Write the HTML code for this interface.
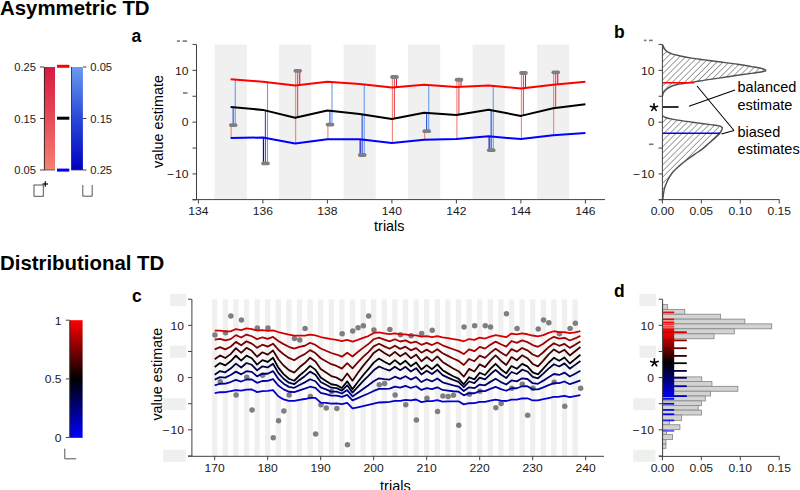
<!DOCTYPE html>
<html><head><meta charset="utf-8"><title>Asymmetric and Distributional TD</title>
<style>html,body{margin:0;padding:0;background:#fff;width:800px;height:490px;overflow:hidden;font-family:"Liberation Sans", sans-serif;}</style>
</head><body>
<svg width="800" height="490" viewBox="0 0 800 490" style="position:absolute;left:0;top:0;font-family:&quot;Liberation Sans&quot;, sans-serif"><text x="0" y="14.6" font-size="20.4" text-anchor="start" font-weight="bold" fill="#000" >Asymmetric TD</text>
<text x="0" y="269.6" font-size="20.4" text-anchor="start" font-weight="bold" fill="#000" >Distributional TD</text>
<text x="131.5" y="41.8" font-size="17.5" text-anchor="start" font-weight="bold" fill="#000" >a</text>
<text x="614" y="37.7" font-size="17.5" text-anchor="start" font-weight="bold" fill="#000" >b</text>
<text x="132" y="302.2" font-size="17.5" text-anchor="start" font-weight="bold" fill="#000" >c</text>
<text x="614.1" y="297.2" font-size="17.5" text-anchor="start" font-weight="bold" fill="#000" >d</text>
<defs>
<linearGradient id="gred" x1="0" y1="0" x2="0" y2="1"><stop offset="0" stop-color="#d8193f"/><stop offset="0.5" stop-color="#e64a5a"/><stop offset="1" stop-color="#f5826f"/></linearGradient>
<linearGradient id="gblue" x1="0" y1="0" x2="0" y2="1"><stop offset="0" stop-color="#6a9bf0"/><stop offset="0.5" stop-color="#2a48d8"/><stop offset="1" stop-color="#0000c0"/></linearGradient>
<linearGradient id="grb" x1="0" y1="0" x2="0" y2="1"><stop offset="0" stop-color="#ff0000"/><stop offset="0.5" stop-color="#000000"/><stop offset="1" stop-color="#0000ff"/></linearGradient>
<linearGradient id="gblock" gradientUnits="userSpaceOnUse" x1="0" y1="328.4" x2="0" y2="397.3"><stop offset="0" stop-color="#ff0000"/><stop offset="0.08" stop-color="#ee0000"/><stop offset="0.5" stop-color="#000000"/><stop offset="1" stop-color="#0000ff"/></linearGradient>
<pattern id="hatch" patternUnits="userSpaceOnUse" width="4.3" height="4.3" patternTransform="rotate(45)"><line x1="0" y1="-1" x2="0" y2="5.3" stroke="#4a4a4a" stroke-width="1.05"/></pattern>
</defs>
<rect x="44" y="67" width="11" height="103" fill="url(#gred)" />
<line x1="44.4" y1="67" x2="44.4" y2="170" stroke="#222" stroke-width="0.9" />
<rect x="71.3" y="67" width="11.6" height="103" fill="url(#gblue)" />
<line x1="71.5" y1="67" x2="71.5" y2="170" stroke="#333" stroke-width="0.9" />
<line x1="71.3" y1="170" x2="83" y2="170" stroke="#444" stroke-width="0.8" />
<line x1="44" y1="170" x2="55" y2="170" stroke="#444" stroke-width="0.8" />
<line x1="40" y1="67" x2="44" y2="67" stroke="#444" stroke-width="1" />
<text x="0" y="0" transform="translate(36,71) scale(1.0,1)" font-size="11.2" text-anchor="end" fill="#1a1a1a">0.25</text>
<line x1="40" y1="118.5" x2="44" y2="118.5" stroke="#444" stroke-width="1" />
<text x="0" y="0" transform="translate(36,122.5) scale(1.0,1)" font-size="11.2" text-anchor="end" fill="#1a1a1a">0.15</text>
<line x1="40" y1="170" x2="44" y2="170" stroke="#444" stroke-width="1" />
<text x="0" y="0" transform="translate(36,174) scale(1.0,1)" font-size="11.2" text-anchor="end" fill="#1a1a1a">0.05</text>
<line x1="83" y1="67" x2="86.5" y2="67" stroke="#444" stroke-width="1" />
<text x="0" y="0" transform="translate(90.3,71) scale(1.0,1)" font-size="11.2" text-anchor="start" fill="#1a1a1a">0.05</text>
<line x1="83" y1="118.5" x2="86.5" y2="118.5" stroke="#444" stroke-width="1" />
<text x="0" y="0" transform="translate(90.3,122.5) scale(1.0,1)" font-size="11.2" text-anchor="start" fill="#1a1a1a">0.15</text>
<line x1="83" y1="170" x2="86.5" y2="170" stroke="#444" stroke-width="1" />
<text x="0" y="0" transform="translate(90.3,174) scale(1.0,1)" font-size="11.2" text-anchor="start" fill="#1a1a1a">0.25</text>
<rect x="57" y="64.8" width="12.3" height="3" fill="#ff0000" />
<rect x="57" y="116.7" width="12.3" height="3" fill="#000000" />
<rect x="57" y="168.6" width="12.3" height="3" fill="#0000ff" />
<rect x="34" y="185" width="9.3" height="11.3" fill="none" stroke="#555" stroke-width="1"/>
<line x1="42.5" y1="184" x2="48" y2="184" stroke="#111" stroke-width="1.3" />
<line x1="45.3" y1="181.3" x2="45.3" y2="186.8" stroke="#111" stroke-width="1.3" />
<polyline points="82.8,185 82.8,196.2 92.2,196.2 92.2,185" fill="none" stroke="#555" stroke-width="1"/>
<rect x="214.53" y="44.5" width="32.25" height="155.1" fill="#f0f0f0" />
<rect x="279.02" y="44.5" width="32.25" height="155.1" fill="#f0f0f0" />
<rect x="343.52" y="44.5" width="32.25" height="155.1" fill="#f0f0f0" />
<rect x="408.02" y="44.5" width="32.25" height="155.1" fill="#f0f0f0" />
<rect x="472.52" y="44.5" width="32.25" height="155.1" fill="#f0f0f0" />
<rect x="537.02" y="44.5" width="32.25" height="155.1" fill="#f0f0f0" />
<line x1="231.15" y1="138" x2="231.15" y2="125.1" stroke="#f5826f" stroke-width="1.1" />
<line x1="233.15" y1="107.1" x2="233.15" y2="125.1" stroke="#2a48d8" stroke-width="1.1" />
<line x1="235.25" y1="79.2" x2="235.25" y2="125.1" stroke="#6a9bf0" stroke-width="1.1" />
<line x1="263.4" y1="137.5" x2="263.4" y2="163.4" stroke="#0000c0" stroke-width="1.1" />
<line x1="265.4" y1="109.9" x2="265.4" y2="163.4" stroke="#2a48d8" stroke-width="1.1" />
<line x1="267.5" y1="81.8" x2="267.5" y2="163.4" stroke="#6a9bf0" stroke-width="1.1" />
<line x1="295.65" y1="143.5" x2="295.65" y2="70.8" stroke="#f5826f" stroke-width="1.1" />
<line x1="297.65" y1="117.7" x2="297.65" y2="70.8" stroke="#e64a5a" stroke-width="1.1" />
<line x1="299.75" y1="85.4" x2="299.75" y2="70.8" stroke="#d8193f" stroke-width="1.1" />
<line x1="327.9" y1="139.2" x2="327.9" y2="124.6" stroke="#f5826f" stroke-width="1.1" />
<line x1="329.9" y1="110.5" x2="329.9" y2="124.6" stroke="#2a48d8" stroke-width="1.1" />
<line x1="332" y1="81.8" x2="332" y2="124.6" stroke="#6a9bf0" stroke-width="1.1" />
<line x1="360.15" y1="139.2" x2="360.15" y2="155" stroke="#0000c0" stroke-width="1.1" />
<line x1="362.15" y1="113.9" x2="362.15" y2="155" stroke="#2a48d8" stroke-width="1.1" />
<line x1="364.25" y1="84" x2="364.25" y2="155" stroke="#6a9bf0" stroke-width="1.1" />
<line x1="392.4" y1="143" x2="392.4" y2="77" stroke="#f5826f" stroke-width="1.1" />
<line x1="394.4" y1="119" x2="394.4" y2="77" stroke="#e64a5a" stroke-width="1.1" />
<line x1="396.5" y1="87.6" x2="396.5" y2="77" stroke="#d8193f" stroke-width="1.1" />
<line x1="424.65" y1="139.7" x2="424.65" y2="131.2" stroke="#f5826f" stroke-width="1.1" />
<line x1="426.65" y1="112.7" x2="426.65" y2="131.2" stroke="#2a48d8" stroke-width="1.1" />
<line x1="428.75" y1="84.7" x2="428.75" y2="131.2" stroke="#6a9bf0" stroke-width="1.1" />
<line x1="456.9" y1="139" x2="456.9" y2="79.75" stroke="#f5826f" stroke-width="1.1" />
<line x1="458.9" y1="115" x2="458.9" y2="79.75" stroke="#e64a5a" stroke-width="1.1" />
<line x1="461" y1="86.9" x2="461" y2="79.75" stroke="#d8193f" stroke-width="1.1" />
<line x1="489.15" y1="136.3" x2="489.15" y2="150.2" stroke="#0000c0" stroke-width="1.1" />
<line x1="491.15" y1="109.8" x2="491.15" y2="150.2" stroke="#2a48d8" stroke-width="1.1" />
<line x1="493.25" y1="85.4" x2="493.25" y2="150.2" stroke="#6a9bf0" stroke-width="1.1" />
<line x1="521.4" y1="139.1" x2="521.4" y2="73" stroke="#f5826f" stroke-width="1.1" />
<line x1="523.4" y1="115.9" x2="523.4" y2="73" stroke="#e64a5a" stroke-width="1.1" />
<line x1="525.5" y1="88.5" x2="525.5" y2="73" stroke="#d8193f" stroke-width="1.1" />
<line x1="553.65" y1="135.2" x2="553.65" y2="72.3" stroke="#f5826f" stroke-width="1.1" />
<line x1="555.65" y1="108.3" x2="555.65" y2="72.3" stroke="#e64a5a" stroke-width="1.1" />
<line x1="557.75" y1="84.7" x2="557.75" y2="72.3" stroke="#d8193f" stroke-width="1.1" />
<polyline points="230.65,79.2 262.9,81.8 295.15,85.4 327.4,81.8 359.65,84 391.9,87.6 424.15,84.7 456.4,86.9 488.65,85.4 520.9,88.5 553.15,84.7 585.4,81.8" fill="none" stroke="#ff0000" stroke-width="2" stroke-linejoin="round" />
<polyline points="230.65,107.1 262.9,109.9 295.15,117.7 327.4,110.5 359.65,113.9 391.9,119 424.15,112.7 456.4,115 488.65,109.8 520.9,115.9 553.15,108.3 585.4,104.2" fill="none" stroke="#000000" stroke-width="2" stroke-linejoin="round" />
<polyline points="230.65,138 262.9,137.5 295.15,143.5 327.4,139.2 359.65,139.2 391.9,143 424.15,139.7 456.4,139 488.65,136.3 520.9,139.1 553.15,135.2 585.4,133" fill="none" stroke="#0000ff" stroke-width="2" stroke-linejoin="round" />
<rect x="228.95" y="123.2" width="8.6" height="3.8" rx="1.9" fill="#7f7f7f"/>
<rect x="261.2" y="161.5" width="8.6" height="3.8" rx="1.9" fill="#7f7f7f"/>
<rect x="293.45" y="68.9" width="8.6" height="3.8" rx="1.9" fill="#7f7f7f"/>
<rect x="325.7" y="122.7" width="8.6" height="3.8" rx="1.9" fill="#7f7f7f"/>
<rect x="357.95" y="153.1" width="8.6" height="3.8" rx="1.9" fill="#7f7f7f"/>
<rect x="390.2" y="75.1" width="8.6" height="3.8" rx="1.9" fill="#7f7f7f"/>
<rect x="422.45" y="129.3" width="8.6" height="3.8" rx="1.9" fill="#7f7f7f"/>
<rect x="454.7" y="77.85" width="8.6" height="3.8" rx="1.9" fill="#7f7f7f"/>
<rect x="486.95" y="148.3" width="8.6" height="3.8" rx="1.9" fill="#7f7f7f"/>
<rect x="519.2" y="71.1" width="8.6" height="3.8" rx="1.9" fill="#7f7f7f"/>
<rect x="551.45" y="70.4" width="8.6" height="3.8" rx="1.9" fill="#7f7f7f"/>
<line x1="196.5" y1="44.5" x2="196.5" y2="199.6" stroke="#404040" stroke-width="1" />
<line x1="192.5" y1="199.6" x2="605" y2="199.6" stroke="#404040" stroke-width="1" />
<line x1="192.5" y1="44.45" x2="196.5" y2="44.45" stroke="#404040" stroke-width="1" />
<line x1="192.5" y1="70.35" x2="196.5" y2="70.35" stroke="#404040" stroke-width="1" />
<text x="0" y="0" transform="translate(188.5,74.65) scale(1.08,1)" font-size="11.2" text-anchor="end" fill="#1a1a1a">10</text>
<line x1="192.5" y1="96.25" x2="196.5" y2="96.25" stroke="#404040" stroke-width="1" />
<line x1="192.5" y1="122.15" x2="196.5" y2="122.15" stroke="#404040" stroke-width="1" />
<text x="0" y="0" transform="translate(188.5,126.45) scale(1.08,1)" font-size="11.2" text-anchor="end" fill="#1a1a1a">0</text>
<line x1="192.5" y1="148.05" x2="196.5" y2="148.05" stroke="#404040" stroke-width="1" />
<line x1="192.5" y1="173.95" x2="196.5" y2="173.95" stroke="#404040" stroke-width="1" />
<text x="0" y="0" transform="translate(188.5,178.25) scale(1.08,1)" font-size="11.2" text-anchor="end" fill="#1a1a1a">− 10</text>
<line x1="192.5" y1="199.85" x2="196.5" y2="199.85" stroke="#404040" stroke-width="1" />
<line x1="176.9" y1="41.1" x2="179.9" y2="41.1" stroke="#777" stroke-width="1.6" />
<line x1="182.6" y1="41.1" x2="187.1" y2="41.1" stroke="#777" stroke-width="1.6" />
<line x1="183" y1="93" x2="187.5" y2="93" stroke="#777" stroke-width="1.6" />
<line x1="198.4" y1="199.6" x2="198.4" y2="203.5" stroke="#404040" stroke-width="1" />
<text x="0" y="0" transform="translate(198.4,215) scale(1.08,1)" font-size="11.2" text-anchor="middle" fill="#1a1a1a">134</text>
<line x1="262.9" y1="199.6" x2="262.9" y2="203.5" stroke="#404040" stroke-width="1" />
<text x="0" y="0" transform="translate(262.9,215) scale(1.08,1)" font-size="11.2" text-anchor="middle" fill="#1a1a1a">136</text>
<line x1="327.4" y1="199.6" x2="327.4" y2="203.5" stroke="#404040" stroke-width="1" />
<text x="0" y="0" transform="translate(327.4,215) scale(1.08,1)" font-size="11.2" text-anchor="middle" fill="#1a1a1a">138</text>
<line x1="391.9" y1="199.6" x2="391.9" y2="203.5" stroke="#404040" stroke-width="1" />
<text x="0" y="0" transform="translate(391.9,215) scale(1.08,1)" font-size="11.2" text-anchor="middle" fill="#1a1a1a">140</text>
<line x1="456.4" y1="199.6" x2="456.4" y2="203.5" stroke="#404040" stroke-width="1" />
<text x="0" y="0" transform="translate(456.4,215) scale(1.08,1)" font-size="11.2" text-anchor="middle" fill="#1a1a1a">142</text>
<line x1="520.9" y1="199.6" x2="520.9" y2="203.5" stroke="#404040" stroke-width="1" />
<text x="0" y="0" transform="translate(520.9,215) scale(1.08,1)" font-size="11.2" text-anchor="middle" fill="#1a1a1a">144</text>
<line x1="585.4" y1="199.6" x2="585.4" y2="203.5" stroke="#404040" stroke-width="1" />
<text x="0" y="0" transform="translate(585.4,215) scale(1.08,1)" font-size="11.2" text-anchor="middle" fill="#1a1a1a">146</text>
<text x="389.3" y="231" font-size="14.4" text-anchor="middle" font-weight="normal" fill="#000" >trials</text>
<text x="0" y="0" font-size="14.4" text-anchor="middle" font-weight="normal" fill="#000" transform="translate(163.4,121.5) rotate(-90)">value estimate</text>
<path d="M662.5,44.6 C662.68,45.02 663.13,46.22 663.6,47.1 C664.07,47.98 664.55,49.07 665.3,49.9 C666.05,50.73 666.88,51.4 668.1,52.1 C669.32,52.8 670.53,53.45 672.6,54.1 C674.67,54.75 677.32,55.33 680.5,56 C683.68,56.67 687.62,57.45 691.7,58.1 C695.78,58.75 700.49,59.28 705,59.9 C709.51,60.52 713.33,61.07 718.75,61.8 C724.17,62.53 732.04,63.5 737.5,64.3 C742.96,65.1 747.6,65.93 751.5,66.6 C755.4,67.27 758.62,67.75 760.9,68.3 C763.18,68.85 764.42,69.53 765.2,69.9 C765.98,70.27 765.6,70.3 765.6,70.5 C765.6,70.7 765.98,70.85 765.2,71.1 C764.42,71.35 763.18,71.62 760.9,72 C758.62,72.38 755.4,72.85 751.5,73.4 C747.6,73.95 742.96,74.52 737.5,75.3 C732.04,76.08 724.17,77.3 718.75,78.1 C713.33,78.9 709.12,79.47 705,80.1 C700.88,80.73 698.08,81.28 694,81.9 C689.92,82.52 684.07,83.15 680.5,83.8 C676.93,84.45 674.67,85.08 672.6,85.8 C670.53,86.52 669.42,87.25 668.1,88.1 C666.78,88.95 665.55,89.97 664.7,90.9 C663.85,91.83 663.37,92.85 663,93.7 C662.63,94.55 662.58,95.62 662.5,96 Z" fill="url(#hatch)" stroke="none"/>
<path d="M662.5,115.7 C662.92,115.95 663.57,116.67 665,117.2 C666.43,117.73 667.9,118.25 671.1,118.9 C674.3,119.55 679.82,120.43 684.2,121.1 C688.58,121.77 693.02,122.32 697.4,122.9 C701.78,123.48 706.87,124.1 710.5,124.6 C714.13,125.1 717.28,125.43 719.2,125.9 C721.12,126.37 721.5,126.95 722,127.4 C722.5,127.85 722.3,128.04 722.2,128.6 C722.1,129.16 721.82,129.95 721.4,130.75 C720.98,131.55 720.72,132.24 719.7,133.4 C718.68,134.56 717.1,136.05 715.3,137.7 C713.5,139.35 711.03,141.43 708.9,143.3 C706.77,145.17 704.88,147.05 702.5,148.9 C700.12,150.75 697.25,152.55 694.6,154.4 C691.95,156.25 689.25,158 686.6,160 C683.95,162 681.08,164.28 678.7,166.4 C676.32,168.52 674.17,170.32 672.3,172.7 C670.43,175.08 668.82,178.05 667.5,180.7 C666.18,183.35 665.13,185.95 664.4,188.6 C663.67,191.25 663.37,194.77 663.1,196.6 C662.83,198.43 662.85,199.1 662.8,199.6 Z" fill="url(#hatch)" stroke="none"/>
<path d="M662.5,44.6 C662.68,45.02 663.13,46.22 663.6,47.1 C664.07,47.98 664.55,49.07 665.3,49.9 C666.05,50.73 666.88,51.4 668.1,52.1 C669.32,52.8 670.53,53.45 672.6,54.1 C674.67,54.75 677.32,55.33 680.5,56 C683.68,56.67 687.62,57.45 691.7,58.1 C695.78,58.75 700.49,59.28 705,59.9 C709.51,60.52 713.33,61.07 718.75,61.8 C724.17,62.53 732.04,63.5 737.5,64.3 C742.96,65.1 747.6,65.93 751.5,66.6 C755.4,67.27 758.62,67.75 760.9,68.3 C763.18,68.85 764.42,69.53 765.2,69.9 C765.98,70.27 765.6,70.3 765.6,70.5 C765.6,70.7 765.98,70.85 765.2,71.1 C764.42,71.35 763.18,71.62 760.9,72 C758.62,72.38 755.4,72.85 751.5,73.4 C747.6,73.95 742.96,74.52 737.5,75.3 C732.04,76.08 724.17,77.3 718.75,78.1 C713.33,78.9 709.12,79.47 705,80.1 C700.88,80.73 698.08,81.28 694,81.9 C689.92,82.52 684.07,83.15 680.5,83.8 C676.93,84.45 674.67,85.08 672.6,85.8 C670.53,86.52 669.42,87.25 668.1,88.1 C666.78,88.95 665.55,89.97 664.7,90.9 C663.85,91.83 663.37,92.85 663,93.7 C662.63,94.55 662.58,95.62 662.5,96" fill="none" stroke="#505050" stroke-width="1.45"/>
<path d="M662.5,115.7 C662.92,115.95 663.57,116.67 665,117.2 C666.43,117.73 667.9,118.25 671.1,118.9 C674.3,119.55 679.82,120.43 684.2,121.1 C688.58,121.77 693.02,122.32 697.4,122.9 C701.78,123.48 706.87,124.1 710.5,124.6 C714.13,125.1 717.28,125.43 719.2,125.9 C721.12,126.37 721.5,126.95 722,127.4 C722.5,127.85 722.3,128.04 722.2,128.6 C722.1,129.16 721.82,129.95 721.4,130.75 C720.98,131.55 720.72,132.24 719.7,133.4 C718.68,134.56 717.1,136.05 715.3,137.7 C713.5,139.35 711.03,141.43 708.9,143.3 C706.77,145.17 704.88,147.05 702.5,148.9 C700.12,150.75 697.25,152.55 694.6,154.4 C691.95,156.25 689.25,158 686.6,160 C683.95,162 681.08,164.28 678.7,166.4 C676.32,168.52 674.17,170.32 672.3,172.7 C670.43,175.08 668.82,178.05 667.5,180.7 C666.18,183.35 665.13,185.95 664.4,188.6 C663.67,191.25 663.37,194.77 663.1,196.6 C662.83,198.43 662.85,199.1 662.8,199.6" fill="none" stroke="#505050" stroke-width="1.45"/>
<line x1="662.4" y1="82.8" x2="694.3" y2="82.8" stroke="#ff0000" stroke-width="1.6" />
<line x1="662.4" y1="133.2" x2="720.1" y2="133.2" stroke="#0000ff" stroke-width="1.6" />
<line x1="662.4" y1="107" x2="678.6" y2="107" stroke="#000" stroke-width="1.6" />
<path d="M654,107.4 L654,103.7 M654,107.4 L650.48,106.26 M654,107.4 L651.83,110.39 M654,107.4 L656.17,110.39 M654,107.4 L657.52,106.26 " stroke="#000" stroke-width="1.6" stroke-linecap="round" fill="none"/>
<line x1="689" y1="106.3" x2="735" y2="90" stroke="#000" stroke-width="1.05" />
<line x1="697" y1="86" x2="734" y2="130.5" stroke="#000" stroke-width="1.05" />
<line x1="734" y1="130.5" x2="721.5" y2="134" stroke="#000" stroke-width="1.05" />
<text x="737.5" y="91.8" font-size="14.5" text-anchor="start" font-weight="normal" fill="#000" >balanced</text>
<text x="737.5" y="109.5" font-size="14.5" text-anchor="start" font-weight="normal" fill="#000" >estimate</text>
<text x="737.5" y="136.9" font-size="14.5" text-anchor="start" font-weight="normal" fill="#000" >biased</text>
<text x="737.6" y="154.3" font-size="14.5" text-anchor="start" font-weight="normal" fill="#000" >estimates</text>
<line x1="662.4" y1="44.5" x2="662.4" y2="199.6" stroke="#404040" stroke-width="1" />
<line x1="659" y1="199.6" x2="779.5" y2="199.6" stroke="#404040" stroke-width="1" />
<line x1="658.5" y1="44.45" x2="662.4" y2="44.45" stroke="#404040" stroke-width="1" />
<line x1="658.5" y1="70.35" x2="662.4" y2="70.35" stroke="#404040" stroke-width="1" />
<text x="0" y="0" transform="translate(654.5,74.65) scale(1.08,1)" font-size="11.2" text-anchor="end" fill="#1a1a1a">10</text>
<line x1="658.5" y1="96.25" x2="662.4" y2="96.25" stroke="#404040" stroke-width="1" />
<line x1="658.5" y1="122.15" x2="662.4" y2="122.15" stroke="#404040" stroke-width="1" />
<text x="0" y="0" transform="translate(654.5,126.45) scale(1.08,1)" font-size="11.2" text-anchor="end" fill="#1a1a1a">0</text>
<line x1="658.5" y1="148.05" x2="662.4" y2="148.05" stroke="#404040" stroke-width="1" />
<line x1="658.5" y1="173.95" x2="662.4" y2="173.95" stroke="#404040" stroke-width="1" />
<text x="0" y="0" transform="translate(654.5,178.25) scale(1.08,1)" font-size="11.2" text-anchor="end" fill="#1a1a1a">− 10</text>
<line x1="658.5" y1="199.85" x2="662.4" y2="199.85" stroke="#404040" stroke-width="1" />
<line x1="643.9" y1="40.4" x2="646.5" y2="40.4" stroke="#777" stroke-width="1.6" />
<line x1="649" y1="40.4" x2="652.7" y2="40.4" stroke="#777" stroke-width="1.6" />
<line x1="649" y1="144.3" x2="653.5" y2="144.3" stroke="#777" stroke-width="1.6" />
<line x1="662.4" y1="199.6" x2="662.4" y2="203.5" stroke="#404040" stroke-width="1" />
<text x="0" y="0" transform="translate(662.4,215) scale(1.08,1)" font-size="11.2" text-anchor="middle" fill="#1a1a1a">0.00</text>
<line x1="701.33" y1="199.6" x2="701.33" y2="203.5" stroke="#404040" stroke-width="1" />
<text x="0" y="0" transform="translate(701.33,215) scale(1.08,1)" font-size="11.2" text-anchor="middle" fill="#1a1a1a">0.05</text>
<line x1="740.27" y1="199.6" x2="740.27" y2="203.5" stroke="#404040" stroke-width="1" />
<text x="0" y="0" transform="translate(740.27,215) scale(1.08,1)" font-size="11.2" text-anchor="middle" fill="#1a1a1a">0.10</text>
<line x1="779.2" y1="199.6" x2="779.2" y2="203.5" stroke="#404040" stroke-width="1" />
<text x="0" y="0" transform="translate(779.2,215) scale(1.08,1)" font-size="11.2" text-anchor="middle" fill="#1a1a1a">0.15</text>
<rect x="69.6" y="320.2" width="13" height="117.3" fill="url(#grb)" />
<line x1="69.9" y1="320.2" x2="69.9" y2="437.5" stroke="#222" stroke-width="0.9" />
<line x1="69.6" y1="437.5" x2="82.6" y2="437.5" stroke="#333" stroke-width="0.8" />
<line x1="65.8" y1="320.2" x2="69.6" y2="320.2" stroke="#444" stroke-width="1" />
<text x="0" y="0" transform="translate(61.5,324.5) scale(1.08,1)" font-size="11.2" text-anchor="end" fill="#1a1a1a">1</text>
<line x1="65.8" y1="378.9" x2="69.6" y2="378.9" stroke="#444" stroke-width="1" />
<text x="0" y="0" transform="translate(61.5,383.2) scale(1.08,1)" font-size="11.2" text-anchor="end" fill="#1a1a1a">0.5</text>
<line x1="65.8" y1="437.5" x2="69.6" y2="437.5" stroke="#444" stroke-width="1" />
<text x="0" y="0" transform="translate(61.5,441.8) scale(1.08,1)" font-size="11.2" text-anchor="end" fill="#1a1a1a">0</text>
<polyline points="64.8,448.6 64.8,458.8 76.2,458.8" fill="none" stroke="#555" stroke-width="1"/>
<rect x="212.05" y="299.4" width="5.3" height="156.9" fill="#f0f0f0" />
<rect x="222.65" y="299.4" width="5.3" height="156.9" fill="#f0f0f0" />
<rect x="233.25" y="299.4" width="5.3" height="156.9" fill="#f0f0f0" />
<rect x="243.85" y="299.4" width="5.3" height="156.9" fill="#f0f0f0" />
<rect x="254.45" y="299.4" width="5.3" height="156.9" fill="#f0f0f0" />
<rect x="265.05" y="299.4" width="5.3" height="156.9" fill="#f0f0f0" />
<rect x="275.65" y="299.4" width="5.3" height="156.9" fill="#f0f0f0" />
<rect x="286.25" y="299.4" width="5.3" height="156.9" fill="#f0f0f0" />
<rect x="296.85" y="299.4" width="5.3" height="156.9" fill="#f0f0f0" />
<rect x="307.45" y="299.4" width="5.3" height="156.9" fill="#f0f0f0" />
<rect x="318.05" y="299.4" width="5.3" height="156.9" fill="#f0f0f0" />
<rect x="328.65" y="299.4" width="5.3" height="156.9" fill="#f0f0f0" />
<rect x="339.25" y="299.4" width="5.3" height="156.9" fill="#f0f0f0" />
<rect x="349.85" y="299.4" width="5.3" height="156.9" fill="#f0f0f0" />
<rect x="360.45" y="299.4" width="5.3" height="156.9" fill="#f0f0f0" />
<rect x="371.05" y="299.4" width="5.3" height="156.9" fill="#f0f0f0" />
<rect x="381.65" y="299.4" width="5.3" height="156.9" fill="#f0f0f0" />
<rect x="392.25" y="299.4" width="5.3" height="156.9" fill="#f0f0f0" />
<rect x="402.85" y="299.4" width="5.3" height="156.9" fill="#f0f0f0" />
<rect x="413.45" y="299.4" width="5.3" height="156.9" fill="#f0f0f0" />
<rect x="424.05" y="299.4" width="5.3" height="156.9" fill="#f0f0f0" />
<rect x="434.65" y="299.4" width="5.3" height="156.9" fill="#f0f0f0" />
<rect x="445.25" y="299.4" width="5.3" height="156.9" fill="#f0f0f0" />
<rect x="455.85" y="299.4" width="5.3" height="156.9" fill="#f0f0f0" />
<rect x="466.45" y="299.4" width="5.3" height="156.9" fill="#f0f0f0" />
<rect x="477.05" y="299.4" width="5.3" height="156.9" fill="#f0f0f0" />
<rect x="487.65" y="299.4" width="5.3" height="156.9" fill="#f0f0f0" />
<rect x="498.25" y="299.4" width="5.3" height="156.9" fill="#f0f0f0" />
<rect x="508.85" y="299.4" width="5.3" height="156.9" fill="#f0f0f0" />
<rect x="519.45" y="299.4" width="5.3" height="156.9" fill="#f0f0f0" />
<rect x="530.05" y="299.4" width="5.3" height="156.9" fill="#f0f0f0" />
<rect x="540.65" y="299.4" width="5.3" height="156.9" fill="#f0f0f0" />
<rect x="551.25" y="299.4" width="5.3" height="156.9" fill="#f0f0f0" />
<rect x="561.85" y="299.4" width="5.3" height="156.9" fill="#f0f0f0" />
<rect x="572.45" y="299.4" width="5.3" height="156.9" fill="#f0f0f0" />
<rect x="170" y="294.03" width="16.3" height="12" fill="#eef0ed" />
<rect x="170" y="345.68" width="16.3" height="12" fill="#eef0ed" />
<rect x="163.3" y="398.23" width="22.5" height="12" fill="#eef0ed" />
<rect x="163.3" y="449.78" width="22.5" height="12" fill="#eef0ed" />
<circle cx="214.95" cy="335.02" r="2.75" fill="#7f7f7f"/>
<circle cx="220.25" cy="381.68" r="2.75" fill="#7f7f7f"/>
<circle cx="225.55" cy="332.67" r="2.75" fill="#7f7f7f"/>
<circle cx="230.85" cy="315.95" r="2.75" fill="#7f7f7f"/>
<circle cx="236.15" cy="395.1" r="2.75" fill="#7f7f7f"/>
<circle cx="241.45" cy="320.12" r="2.75" fill="#7f7f7f"/>
<circle cx="246.75" cy="377.18" r="2.75" fill="#7f7f7f"/>
<circle cx="252.05" cy="410" r="2.75" fill="#7f7f7f"/>
<circle cx="257.35" cy="327.96" r="2.75" fill="#7f7f7f"/>
<circle cx="262.65" cy="375.2" r="2.75" fill="#7f7f7f"/>
<circle cx="267.95" cy="327.96" r="2.75" fill="#7f7f7f"/>
<circle cx="273.25" cy="437.69" r="2.75" fill="#7f7f7f"/>
<circle cx="278.55" cy="420.71" r="2.75" fill="#7f7f7f"/>
<circle cx="283.85" cy="411.04" r="2.75" fill="#7f7f7f"/>
<circle cx="289.15" cy="395.1" r="2.75" fill="#7f7f7f"/>
<circle cx="294.45" cy="338.41" r="2.75" fill="#7f7f7f"/>
<circle cx="299.75" cy="339.98" r="2.75" fill="#7f7f7f"/>
<circle cx="305.05" cy="328.49" r="2.75" fill="#7f7f7f"/>
<circle cx="310.35" cy="396.41" r="2.75" fill="#7f7f7f"/>
<circle cx="315.65" cy="434.03" r="2.75" fill="#7f7f7f"/>
<circle cx="320.95" cy="404.77" r="2.75" fill="#7f7f7f"/>
<circle cx="326.25" cy="407.91" r="2.75" fill="#7f7f7f"/>
<circle cx="331.55" cy="391.45" r="2.75" fill="#7f7f7f"/>
<circle cx="336.85" cy="408.43" r="2.75" fill="#7f7f7f"/>
<circle cx="342.15" cy="333.87" r="2.75" fill="#7f7f7f"/>
<circle cx="347.45" cy="444.74" r="2.75" fill="#7f7f7f"/>
<circle cx="352.75" cy="330.89" r="2.75" fill="#7f7f7f"/>
<circle cx="358.05" cy="327.65" r="2.75" fill="#7f7f7f"/>
<circle cx="363.35" cy="325.87" r="2.75" fill="#7f7f7f"/>
<circle cx="368.65" cy="315.95" r="2.75" fill="#7f7f7f"/>
<circle cx="373.95" cy="330.05" r="2.75" fill="#7f7f7f"/>
<circle cx="379.25" cy="384.81" r="2.75" fill="#7f7f7f"/>
<circle cx="384.55" cy="383.5" r="2.75" fill="#7f7f7f"/>
<circle cx="389.85" cy="329.53" r="2.75" fill="#7f7f7f"/>
<circle cx="395.15" cy="395" r="2.75" fill="#7f7f7f"/>
<circle cx="400.45" cy="334.76" r="2.75" fill="#7f7f7f"/>
<circle cx="405.75" cy="404.77" r="2.75" fill="#7f7f7f"/>
<circle cx="411.05" cy="335.8" r="2.75" fill="#7f7f7f"/>
<circle cx="416.35" cy="419.92" r="2.75" fill="#7f7f7f"/>
<circle cx="421.65" cy="333.4" r="2.75" fill="#7f7f7f"/>
<circle cx="426.95" cy="398.29" r="2.75" fill="#7f7f7f"/>
<circle cx="432.25" cy="330.37" r="2.75" fill="#7f7f7f"/>
<circle cx="437.55" cy="411.56" r="2.75" fill="#7f7f7f"/>
<circle cx="442.85" cy="395.89" r="2.75" fill="#7f7f7f"/>
<circle cx="448.15" cy="396.41" r="2.75" fill="#7f7f7f"/>
<circle cx="453.45" cy="395.37" r="2.75" fill="#7f7f7f"/>
<circle cx="458.75" cy="425.15" r="2.75" fill="#7f7f7f"/>
<circle cx="464.05" cy="326.92" r="2.75" fill="#7f7f7f"/>
<circle cx="469.35" cy="394.32" r="2.75" fill="#7f7f7f"/>
<circle cx="474.65" cy="325.87" r="2.75" fill="#7f7f7f"/>
<circle cx="479.95" cy="391.19" r="2.75" fill="#7f7f7f"/>
<circle cx="485.25" cy="325.87" r="2.75" fill="#7f7f7f"/>
<circle cx="490.55" cy="326.92" r="2.75" fill="#7f7f7f"/>
<circle cx="495.85" cy="407.64" r="2.75" fill="#7f7f7f"/>
<circle cx="501.15" cy="403.46" r="2.75" fill="#7f7f7f"/>
<circle cx="506.45" cy="313.86" r="2.75" fill="#7f7f7f"/>
<circle cx="511.75" cy="388.26" r="2.75" fill="#7f7f7f"/>
<circle cx="517.05" cy="328.49" r="2.75" fill="#7f7f7f"/>
<circle cx="522.35" cy="384.13" r="2.75" fill="#7f7f7f"/>
<circle cx="527.65" cy="415.22" r="2.75" fill="#7f7f7f"/>
<circle cx="532.95" cy="388.26" r="2.75" fill="#7f7f7f"/>
<circle cx="538.25" cy="329.01" r="2.75" fill="#7f7f7f"/>
<circle cx="543.55" cy="320.12" r="2.75" fill="#7f7f7f"/>
<circle cx="548.85" cy="322.74" r="2.75" fill="#7f7f7f"/>
<circle cx="554.15" cy="382.2" r="2.75" fill="#7f7f7f"/>
<circle cx="559.45" cy="333.87" r="2.75" fill="#7f7f7f"/>
<circle cx="564.75" cy="406.13" r="2.75" fill="#7f7f7f"/>
<circle cx="570.05" cy="328.49" r="2.75" fill="#7f7f7f"/>
<circle cx="575.35" cy="323.26" r="2.75" fill="#7f7f7f"/>
<circle cx="580.65" cy="388.26" r="2.75" fill="#7f7f7f"/>
<polyline points="214.7,330.55 220,330.62 225.3,331.41 230.6,331.43 235.9,329.01 241.2,330.03 246.5,328.48 251.8,329.23 257.1,330.49 262.4,330.09 267.7,330.79 273,330.35 278.3,332.01 283.6,333.39 288.9,334.59 294.2,335.53 299.5,335.57 304.8,335.64 310.1,334.52 315.4,335.48 320.7,337.01 326,338.06 331.3,339.14 336.6,339.95 341.9,341.01 347.2,339.89 352.5,341.52 357.8,339.86 363.1,337.95 368.4,336.06 373.7,332.91 379,332.46 384.3,333.27 389.6,334.05 394.9,333.34 400.2,334.3 405.5,334.31 410.8,335.4 416.1,335.41 421.4,336.72 426.7,336.2 432,337.16 437.3,336.1 442.6,337.27 447.9,338.17 453.2,339.08 458.5,339.95 463.8,341.27 469.1,339.02 474.4,339.88 479.7,337.69 485,338.52 490.3,336.54 495.6,335.03 500.9,336.16 506.2,337.2 511.5,333.55 516.8,334.4 522.1,333.47 527.4,334.26 532.7,335.51 538,336.33 543.3,335.18 548.6,332.83 553.9,331.25 559.2,332.04 564.5,332.07 569.8,333.21 575.1,332.47 580.4,331.03" fill="none" stroke="rgb(211,0,0)" stroke-width="1.8" stroke-linejoin="round" />
<polyline points="214.7,339.55 220,338.77 225.3,340.48 230.6,339.14 235.9,335.15 241.2,337.55 246.5,334.55 251.8,336.25 257.1,339.2 262.4,337.27 267.7,338.78 273,336.92 278.3,340.94 283.6,344.12 288.9,346.79 294.2,348.72 299.5,346.95 304.8,345.75 310.1,342.79 315.4,344.93 320.7,348.48 326,350.73 331.3,353.01 336.6,354.54 341.9,356.69 347.2,352.77 352.5,356.44 357.8,352.05 363.1,347.86 368.4,344.08 373.7,339.25 379,337.67 384.3,339.55 389.6,341.3 394.9,339.28 400.2,341.5 405.5,340.34 410.8,342.91 416.1,341.69 421.4,344.81 426.7,342.85 432,345.06 437.3,342.54 442.6,345.29 447.9,347.31 453.2,349.27 458.5,351.11 463.8,354.06 469.1,349.4 474.4,351.19 479.7,346.84 485,348.61 490.3,344.71 495.6,341.65 500.9,344.28 506.2,346.64 511.5,341.01 516.8,342.9 522.1,340.42 527.4,342.16 532.7,345.08 538,346.8 543.3,343.74 548.6,339.69 553.9,336.78 559.2,338.59 564.5,337.78 569.8,340.5 575.1,338.44 580.4,335.83" fill="none" stroke="rgb(165,0,0)" stroke-width="1.8" stroke-linejoin="round" />
<polyline points="214.7,349.45 220,347.17 225.3,349.37 230.6,346.73 235.9,341.87 241.2,345.27 246.5,341.3 251.8,343.59 257.1,347.84 262.4,344.7 267.7,346.65 273,343.7 278.3,349.71 283.6,354.26 288.9,357.89 294.2,360.27 299.5,356.82 304.8,354.15 310.1,350.1 315.4,353.06 320.7,358.24 326,361.22 331.3,364.21 336.6,365.95 341.9,368.67 347.2,363.17 352.5,368.39 357.8,362.46 363.1,356.96 368.4,352.04 373.7,346.33 379,343.76 384.3,346.39 389.6,348.76 394.9,345.72 400.2,348.88 405.5,346.64 410.8,350.36 416.1,348.06 421.4,352.66 426.7,349.61 432,352.73 437.3,349.19 442.6,353.19 447.9,355.92 453.2,358.51 458.5,360.87 463.8,364.98 469.1,358.96 474.4,361.23 479.7,355.64 485,357.91 490.3,352.85 495.6,348.75 500.9,352.52 506.2,355.78 511.5,349.15 516.8,351.65 522.1,347.99 527.4,350.3 532.7,354.46 538,356.62 543.3,352.26 548.6,347.18 553.9,343.31 559.2,345.8 564.5,343.91 569.8,347.9 575.1,344.83 580.4,341.42" fill="none" stroke="rgb(117,0,0)" stroke-width="1.8" stroke-linejoin="round" />
<polyline points="214.7,359.16 220,355.4 225.3,358.06 230.6,354.11 235.9,348.18 241.2,352.92 246.5,347.82 251.8,350.79 257.1,356.77 262.4,352.29 267.7,354.61 273,350.47 278.3,359.27 283.6,365.48 288.9,370.08 294.2,372.61 299.5,367.29 304.8,363.05 310.1,357.68 315.4,361.59 320.7,368.91 326,372.53 331.3,376.1 336.6,377.65 341.9,380.76 347.2,373.47 352.5,380.67 357.8,372.93 363.1,365.9 368.4,359.68 373.7,352.88 379,349.33 384.3,352.92 389.6,356.01 394.9,351.89 400.2,356.25 405.5,352.91 410.8,358.14 416.1,354.67 421.4,361.26 426.7,356.93 432,361.11 437.3,356.33 442.6,361.91 447.9,365.34 453.2,368.48 458.5,371.2 463.8,376.64 469.1,368.92 474.4,371.48 479.7,364.39 485,367.1 490.3,360.69 495.6,355.44 500.9,360.72 506.2,365.03 511.5,357.08 516.8,360.23 522.1,355.3 527.4,358.21 532.7,363.97 538,366.42 543.3,360.61 548.6,354.32 553.9,349.41 559.2,352.72 564.5,349.79 569.8,355.48 575.1,351.29 580.4,346.93" fill="none" stroke="rgb(65,0,0)" stroke-width="1.8" stroke-linejoin="round" />
<polyline points="214.7,367.02 220,363.07 225.3,365.36 230.6,361.33 235.9,355.73 241.2,360.58 246.5,355.59 251.8,358.25 257.1,364.63 262.4,360.11 267.7,361.97 273,357.77 278.3,367.63 283.6,374.17 288.9,378.72 294.2,380.74 299.5,375.51 304.8,371.13 310.1,365.87 315.4,369.63 320.7,377.57 326,380.93 331.3,384.25 336.6,385.14 341.9,388.01 347.2,381.33 352.5,389.15 357.8,381.96 363.1,375.26 368.4,369.16 373.7,362.6 379,358.58 384.3,361.81 389.6,364.49 394.9,360.17 400.2,364.47 405.5,360.8 410.8,366.22 416.1,362.47 421.4,369.55 426.7,365.09 432,369.18 437.3,364.39 442.6,370.21 447.9,373.38 453.2,376.22 458.5,378.58 463.8,384.32 469.1,377.24 474.4,379.34 479.7,372.74 485,375.02 490.3,368.95 495.6,363.77 500.9,369.18 506.2,373.4 511.5,366.06 516.8,368.79 522.1,363.82 527.4,366.32 532.7,372.35 538,374.31 543.3,368.72 548.6,362.73 553.9,357.79 559.2,360.8 564.5,357.48 569.8,363.48 575.1,359.16 580.4,354.73" fill="none" stroke="rgb(0,0,0)" stroke-width="1.8" stroke-linejoin="round" />
<polyline points="214.7,374.76 220,371.01 225.3,372.33 230.6,368.58 235.9,363.61 241.2,367.5 246.5,363.02 251.8,364.77 257.1,370.35 262.4,366.34 267.7,367.44 273,363.71 278.3,372.83 283.6,378.73 288.9,382.72 294.2,384.24 299.5,379.92 304.8,376.15 310.1,371.65 315.4,374.7 320.7,382.02 326,384.82 331.3,387.67 336.6,388.13 341.9,390.64 347.2,385.28 352.5,392.61 357.8,386.78 363.1,381.2 368.4,375.98 373.7,370.31 379,366.51 384.3,368.77 389.6,370.58 394.9,366.71 400.2,370.2 405.5,366.85 410.8,371.53 416.1,368.15 421.4,374.54 426.7,370.65 432,374.06 437.3,369.94 442.6,375.07 447.9,377.64 453.2,379.95 458.5,381.85 463.8,387.19 469.1,381.5 474.4,383.08 479.7,377.68 485,379.35 490.3,374.3 495.6,369.82 500.9,374.49 506.2,378.06 511.5,372 516.8,374 522.1,369.71 527.4,371.49 532.7,376.88 538,378.28 543.3,373.63 548.6,368.58 553.9,364.25 559.2,366.46 564.5,363.39 569.8,368.66 575.1,364.86 580.4,360.94" fill="none" stroke="rgb(0,0,65)" stroke-width="1.8" stroke-linejoin="round" />
<polyline points="214.7,379.67 220,377.1 225.3,377.63 230.6,375.04 235.9,371.63 241.2,374.35 246.5,371.22 251.8,371.92 257.1,376.34 262.4,373.55 267.7,373.74 273,371.1 278.3,378.84 283.6,383.7 288.9,386.88 294.2,387.83 299.5,384.98 304.8,382.39 310.1,379.28 315.4,381.27 320.7,387.4 326,389.42 331.3,391.57 336.6,391.56 341.9,393.52 347.2,390.08 352.5,396.43 357.8,392.65 363.1,388.9 368.4,385.26 373.7,381.26 379,378.31 384.3,379.06 389.6,379.58 394.9,376.69 400.2,378.82 405.5,376.28 410.8,379.59 416.1,377.06 421.4,382.04 426.7,379.23 432,381.45 437.3,378.5 442.6,382.34 447.9,383.92 453.2,385.37 458.5,386.53 463.8,391.02 469.1,387.32 474.4,388.13 479.7,384.54 485,385.31 490.3,381.88 495.6,378.71 500.9,382.07 506.2,384.56 511.5,380.48 516.8,381.38 522.1,378.33 527.4,379 532.7,383.21 538,383.8 543.3,380.64 548.6,377.15 553.9,374.01 559.2,374.96 564.5,372.59 569.8,376.49 575.1,373.72 580.4,370.8" fill="none" stroke="rgb(0,0,117)" stroke-width="1.8" stroke-linejoin="round" />
<polyline points="214.7,385.4 220,383.75 225.3,383.69 230.6,382.02 235.9,379.86 241.2,381.53 246.5,379.52 251.8,379.44 257.1,382.79 262.4,381 267.7,380.81 273,379.08 278.3,385.5 283.6,389.36 288.9,391.74 294.2,392.11 299.5,390.35 304.8,388.7 310.1,386.74 315.4,387.8 320.7,392.86 326,394.17 331.3,395.67 336.6,395.54 341.9,396.95 347.2,394.89 352.5,400.35 357.8,398.08 363.1,395.78 368.4,393.49 373.7,390.95 379,388.96 384.3,388.83 389.6,388.65 394.9,386.72 400.2,387.63 405.5,385.9 410.8,387.97 416.1,386.26 421.4,389.95 426.7,388.1 432,389.22 437.3,387.29 442.6,389.95 447.9,390.6 453.2,391.24 458.5,391.69 463.8,395.36 469.1,393.12 474.4,393.25 479.7,391.05 485,391.06 490.3,388.93 495.6,386.9 500.9,389.18 506.2,390.74 511.5,388.23 516.8,388.23 522.1,386.28 527.4,386.21 532.7,389.39 538,389.35 543.3,387.38 548.6,385.18 553.9,383.14 559.2,383.11 564.5,381.5 569.8,384.2 575.1,382.37 580.4,380.44" fill="none" stroke="rgb(0,0,165)" stroke-width="1.8" stroke-linejoin="round" />
<polyline points="214.7,393.09 220,392.23 225.3,392.08 230.6,391.2 235.9,390.08 241.2,390.73 246.5,389.69 251.8,389.5 257.1,392.16 262.4,391.21 267.7,390.97 273,390.04 278.3,396.22 283.6,399.4 288.9,400.91 294.2,400.82 299.5,399.9 304.8,399.01 310.1,397.97 315.4,397.94 320.7,402.62 326,402.9 331.3,403.55 336.6,403.37 341.9,404.03 347.2,402.99 352.5,408.4 357.8,407.26 363.1,406.08 368.4,404.89 373.7,403.58 379,402.49 384.3,402.23 389.6,401.95 394.9,400.88 400.2,400.79 405.5,399.81 410.8,400.46 416.1,399.5 421.4,402.15 426.7,401.13 432,401.09 437.3,400.04 442.6,401.54 447.9,401.45 453.2,401.38 458.5,401.29 463.8,404.38 469.1,403.24 474.4,403.1 479.7,401.96 485,401.8 490.3,400.68 495.6,399.59 500.9,400.63 506.2,401 511.5,399.71 516.8,399.54 522.1,398.49 527.4,398.28 532.7,400.47 538,400.29 543.3,399.24 548.6,398.07 553.9,396.95 559.2,396.73 564.5,395.8 569.8,397.14 575.1,396.13 580.4,395.05" fill="none" stroke="rgb(0,0,211)" stroke-width="1.8" stroke-linejoin="round" />
<line x1="191.9" y1="299.4" x2="191.9" y2="456.3" stroke="#404040" stroke-width="1" />
<line x1="188" y1="456.3" x2="604" y2="456.3" stroke="#404040" stroke-width="1" />
<line x1="188" y1="299.23" x2="191.9" y2="299.23" stroke="#404040" stroke-width="1" />
<line x1="188" y1="325.35" x2="191.9" y2="325.35" stroke="#404040" stroke-width="1" />
<text x="0" y="0" transform="translate(184,329.65) scale(1.08,1)" font-size="11.2" text-anchor="end" fill="#1a1a1a">10</text>
<line x1="188" y1="351.48" x2="191.9" y2="351.48" stroke="#404040" stroke-width="1" />
<line x1="188" y1="377.6" x2="191.9" y2="377.6" stroke="#404040" stroke-width="1" />
<text x="0" y="0" transform="translate(184,381.9) scale(1.08,1)" font-size="11.2" text-anchor="end" fill="#1a1a1a">0</text>
<line x1="188" y1="403.73" x2="191.9" y2="403.73" stroke="#404040" stroke-width="1" />
<line x1="188" y1="429.85" x2="191.9" y2="429.85" stroke="#404040" stroke-width="1" />
<text x="0" y="0" transform="translate(184,434.15) scale(1.08,1)" font-size="11.2" text-anchor="end" fill="#1a1a1a">− 10</text>
<line x1="188" y1="455.98" x2="191.9" y2="455.98" stroke="#404040" stroke-width="1" />
<line x1="214.7" y1="456.3" x2="214.7" y2="460.2" stroke="#404040" stroke-width="1" />
<text x="0" y="0" transform="translate(214.7,472) scale(1.08,1)" font-size="11.2" text-anchor="middle" fill="#1a1a1a">170</text>
<line x1="267.7" y1="456.3" x2="267.7" y2="460.2" stroke="#404040" stroke-width="1" />
<text x="0" y="0" transform="translate(267.7,472) scale(1.08,1)" font-size="11.2" text-anchor="middle" fill="#1a1a1a">180</text>
<line x1="320.7" y1="456.3" x2="320.7" y2="460.2" stroke="#404040" stroke-width="1" />
<text x="0" y="0" transform="translate(320.7,472) scale(1.08,1)" font-size="11.2" text-anchor="middle" fill="#1a1a1a">190</text>
<line x1="373.7" y1="456.3" x2="373.7" y2="460.2" stroke="#404040" stroke-width="1" />
<text x="0" y="0" transform="translate(373.7,472) scale(1.08,1)" font-size="11.2" text-anchor="middle" fill="#1a1a1a">200</text>
<line x1="426.7" y1="456.3" x2="426.7" y2="460.2" stroke="#404040" stroke-width="1" />
<text x="0" y="0" transform="translate(426.7,472) scale(1.08,1)" font-size="11.2" text-anchor="middle" fill="#1a1a1a">210</text>
<line x1="479.7" y1="456.3" x2="479.7" y2="460.2" stroke="#404040" stroke-width="1" />
<text x="0" y="0" transform="translate(479.7,472) scale(1.08,1)" font-size="11.2" text-anchor="middle" fill="#1a1a1a">220</text>
<line x1="532.7" y1="456.3" x2="532.7" y2="460.2" stroke="#404040" stroke-width="1" />
<text x="0" y="0" transform="translate(532.7,472) scale(1.08,1)" font-size="11.2" text-anchor="middle" fill="#1a1a1a">230</text>
<line x1="585.7" y1="456.3" x2="585.7" y2="460.2" stroke="#404040" stroke-width="1" />
<text x="0" y="0" transform="translate(585.7,472) scale(1.08,1)" font-size="11.2" text-anchor="middle" fill="#1a1a1a">240</text>
<text x="395.4" y="490.6" font-size="14.5" text-anchor="middle" font-weight="normal" fill="#000" >trials</text>
<text x="0" y="0" font-size="14.4" text-anchor="middle" font-weight="normal" fill="#000" transform="translate(161.9,374.2) rotate(-90)">value estimate</text>
<rect x="639.4" y="294.03" width="16.7" height="12" fill="#eef0ed" />
<rect x="639.4" y="345.68" width="16.7" height="12" fill="#eef0ed" />
<rect x="633.15" y="398.23" width="22.25" height="12" fill="#eef0ed" />
<rect x="633.15" y="449.78" width="22.25" height="12" fill="#eef0ed" />
<rect x="662.4" y="304.6" width="5.2" height="4.8" fill="#d3d3d3" stroke="#8c8c8c" stroke-width="0.9"/>
<rect x="662.4" y="309.4" width="22.35" height="4.85" fill="#d3d3d3" stroke="#8c8c8c" stroke-width="0.9"/>
<rect x="662.4" y="314.25" width="58.2" height="4.9" fill="#d3d3d3" stroke="#8c8c8c" stroke-width="0.9"/>
<rect x="662.4" y="319.15" width="82.4" height="4.75" fill="#d3d3d3" stroke="#8c8c8c" stroke-width="0.9"/>
<rect x="662.4" y="323.9" width="109.3" height="4.9" fill="#d3d3d3" stroke="#8c8c8c" stroke-width="0.9"/>
<rect x="662.4" y="328.8" width="71.9" height="5.05" fill="#d3d3d3" stroke="#8c8c8c" stroke-width="0.9"/>
<rect x="662.4" y="333.85" width="51.6" height="4.9" fill="#d3d3d3" stroke="#8c8c8c" stroke-width="0.9"/>
<rect x="662.4" y="376.9" width="39.3" height="4.7" fill="#d3d3d3" stroke="#8c8c8c" stroke-width="0.9"/>
<rect x="662.4" y="381.6" width="49.5" height="4.75" fill="#d3d3d3" stroke="#8c8c8c" stroke-width="0.9"/>
<rect x="662.4" y="386.35" width="75.4" height="4.9" fill="#d3d3d3" stroke="#8c8c8c" stroke-width="0.9"/>
<rect x="662.4" y="391.25" width="48.1" height="4.75" fill="#d3d3d3" stroke="#8c8c8c" stroke-width="0.9"/>
<rect x="662.4" y="396" width="42.9" height="4.9" fill="#d3d3d3" stroke="#8c8c8c" stroke-width="0.9"/>
<rect x="662.4" y="400.9" width="39" height="4.7" fill="#d3d3d3" stroke="#8c8c8c" stroke-width="0.9"/>
<rect x="662.4" y="405.6" width="35.85" height="4.55" fill="#d3d3d3" stroke="#8c8c8c" stroke-width="0.9"/>
<rect x="662.4" y="410.15" width="39" height="4.85" fill="#d3d3d3" stroke="#8c8c8c" stroke-width="0.9"/>
<rect x="662.4" y="415" width="19.2" height="5.4" fill="#d3d3d3" stroke="#8c8c8c" stroke-width="0.9"/>
<rect x="662.4" y="420.4" width="7" height="4.35" fill="#d3d3d3" stroke="#8c8c8c" stroke-width="0.9"/>
<rect x="662.4" y="424.75" width="17.5" height="4.9" fill="#d3d3d3" stroke="#8c8c8c" stroke-width="0.9"/>
<rect x="662.4" y="429.65" width="4.1" height="4.75" fill="#d3d3d3" stroke="#8c8c8c" stroke-width="0.9"/>
<rect x="662.4" y="434.4" width="10.1" height="5.2" fill="#d3d3d3" stroke="#8c8c8c" stroke-width="0.9"/>
<rect x="662.4" y="439.6" width="3.5" height="4.4" fill="#d3d3d3" stroke="#8c8c8c" stroke-width="0.9"/>
<rect x="662.4" y="444" width="3.5" height="4.4" fill="#d3d3d3" stroke="#8c8c8c" stroke-width="0.9"/>
<rect x="662.8" y="328.4" width="11.4" height="68.9" fill="url(#gblock)" />
<line x1="662.8" y1="324.7" x2="674.2" y2="324.7" stroke="#f22" stroke-width="1.3" />
<line x1="662.8" y1="326.9" x2="674.2" y2="326.9" stroke="#e33" stroke-width="1.5" />
<line x1="662.8" y1="312.4" x2="674.2" y2="312.4" stroke="#ff0000" stroke-width="1.7" />
<line x1="662.8" y1="319.4" x2="674.2" y2="319.4" stroke="#ff0000" stroke-width="1.7" />
<line x1="662.8" y1="322.4" x2="674.2" y2="322.4" stroke="#ff0000" stroke-width="1.7" />
<line x1="662.8" y1="398.9" x2="674.2" y2="398.9" stroke="#0000ff" stroke-width="1.7" />
<line x1="662.8" y1="403.75" x2="674.2" y2="403.75" stroke="#0000ff" stroke-width="1.7" />
<line x1="662.8" y1="409.9" x2="674.2" y2="409.9" stroke="#0000ff" stroke-width="1.7" />
<line x1="662.8" y1="414.25" x2="674.2" y2="414.25" stroke="#0000ff" stroke-width="1.7" />
<line x1="662.8" y1="420.4" x2="674.2" y2="420.4" stroke="#1a1aff" stroke-width="1.7" />
<line x1="662.8" y1="430.9" x2="674.2" y2="430.9" stroke="#5555ff" stroke-width="1.7" />
<line x1="662.8" y1="332.2" x2="686.8" y2="332.2" stroke="rgb(204,0,0)" stroke-width="1.8" />
<line x1="662.8" y1="340.4" x2="686.8" y2="340.4" stroke="rgb(153,0,0)" stroke-width="1.8" />
<line x1="662.8" y1="348.2" x2="686.8" y2="348.2" stroke="rgb(102,0,0)" stroke-width="1.8" />
<line x1="662.8" y1="355.9" x2="686.8" y2="355.9" stroke="rgb(51,0,0)" stroke-width="1.8" />
<line x1="662.8" y1="363.2" x2="686.8" y2="363.2" stroke="rgb(0,0,0)" stroke-width="1.8" />
<line x1="662.8" y1="370.9" x2="686.8" y2="370.9" stroke="rgb(0,0,51)" stroke-width="1.8" />
<line x1="662.8" y1="377.8" x2="686.8" y2="377.8" stroke="rgb(0,0,102)" stroke-width="1.8" />
<line x1="662.8" y1="386.2" x2="686.8" y2="386.2" stroke="rgb(0,0,153)" stroke-width="1.8" />
<line x1="662.8" y1="396.1" x2="686.8" y2="396.1" stroke="rgb(0,0,204)" stroke-width="1.8" />
<line x1="662.6" y1="299.4" x2="662.6" y2="456.4" stroke="#404040" stroke-width="1" />
<line x1="659" y1="456.4" x2="779.5" y2="456.4" stroke="#404040" stroke-width="1" />
<line x1="658.7" y1="299.23" x2="662.6" y2="299.23" stroke="#404040" stroke-width="1" />
<line x1="658.7" y1="325.35" x2="662.6" y2="325.35" stroke="#404040" stroke-width="1" />
<text x="0" y="0" transform="translate(654,329.65) scale(1.08,1)" font-size="11.2" text-anchor="end" fill="#1a1a1a">10</text>
<line x1="658.7" y1="351.48" x2="662.6" y2="351.48" stroke="#404040" stroke-width="1" />
<line x1="658.7" y1="377.6" x2="662.6" y2="377.6" stroke="#404040" stroke-width="1" />
<text x="0" y="0" transform="translate(654,381.9) scale(1.08,1)" font-size="11.2" text-anchor="end" fill="#1a1a1a">0</text>
<line x1="658.7" y1="403.73" x2="662.6" y2="403.73" stroke="#404040" stroke-width="1" />
<line x1="658.7" y1="429.85" x2="662.6" y2="429.85" stroke="#404040" stroke-width="1" />
<text x="0" y="0" transform="translate(654,434.15) scale(1.08,1)" font-size="11.2" text-anchor="end" fill="#1a1a1a">− 10</text>
<line x1="658.7" y1="455.98" x2="662.6" y2="455.98" stroke="#404040" stroke-width="1" />
<path d="M654.4,362.6 L654.4,358.7 M654.4,362.6 L650.69,361.39 M654.4,362.6 L652.11,365.76 M654.4,362.6 L656.69,365.76 M654.4,362.6 L658.11,361.39 " stroke="#000" stroke-width="1.6" stroke-linecap="round" fill="none"/>
<line x1="662.4" y1="456.4" x2="662.4" y2="460.3" stroke="#404040" stroke-width="1" />
<text x="0" y="0" transform="translate(662.4,472) scale(1.08,1)" font-size="11.2" text-anchor="middle" fill="#1a1a1a">0.00</text>
<line x1="701.33" y1="456.4" x2="701.33" y2="460.3" stroke="#404040" stroke-width="1" />
<text x="0" y="0" transform="translate(701.33,472) scale(1.08,1)" font-size="11.2" text-anchor="middle" fill="#1a1a1a">0.05</text>
<line x1="740.27" y1="456.4" x2="740.27" y2="460.3" stroke="#404040" stroke-width="1" />
<text x="0" y="0" transform="translate(740.27,472) scale(1.08,1)" font-size="11.2" text-anchor="middle" fill="#1a1a1a">0.10</text>
<line x1="779.2" y1="456.4" x2="779.2" y2="460.3" stroke="#404040" stroke-width="1" />
<text x="0" y="0" transform="translate(779.2,472) scale(1.08,1)" font-size="11.2" text-anchor="middle" fill="#1a1a1a">0.15</text></svg>
</body></html>
